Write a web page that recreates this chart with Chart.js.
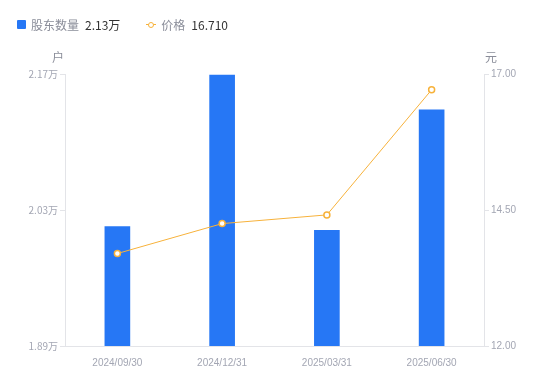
<!DOCTYPE html>
<html>
<head>
<meta charset="utf-8">
<script src="https://cdn.jsdelivr.net/npm/chart.js@4/dist/chart.umd.min.js"></script>
<style>
  html, body { margin: 0; padding: 0; background: #fff; }
  #wrap { position: relative; width: 550px; height: 381px; }
  #legend {
    position: absolute; left: 17px; top: 16px;
    font-family: "Noto Sans CJK SC", "Liberation Sans", sans-serif;
    font-size: 12px; line-height: 17px; color: #8a8d99;
    display: flex; align-items: center; white-space: nowrap;
  }
  #legend .item { display: flex; align-items: center; margin-right: 26px; }
  #legend .sq { width: 9px; height: 9px; background: #2677f5; border-radius: 1px; margin-right: 5px; }
  #legend .ln { position: relative; width: 10px; height: 9px; margin-right: 5px; }
  #legend .ln:before { content: ""; position: absolute; left: 0; right: 0; top: 4px; height: 1px; background: #f7b23b; }
  #legend .ln:after { content: ""; position: absolute; left: 2px; top: 1.5px; width: 4px; height: 4px; border: 1.5px solid #f7b23b; border-radius: 50%; background: #fff; }
  #legend .val { color: #333; margin-left: 6px; }
</style>
</head>
<body>
<div id="wrap">
  <canvas id="chart" width="550" height="381"></canvas>
  <div id="legend">
    <div class="item"><span class="sq"></span>股东数量<span class="val">2.13万</span></div>
    <div class="item"><span class="ln"></span>价格<span class="val">16.710</span></div>
  </div>
</div>
<script>
// 报告期
const periods = ["2024/09/30", "2024/12/31", "2025/03/31", "2025/06/30"];
// 股东数量 (万户)
const holders = [2.013, 2.169, 2.009, 2.133];
// 价格 (元)
const prices = [13.70, 14.25, 14.41, 16.71];
// tick labels
const leftTicks = [1.89, 2.03, 2.17];
const rightTicks = [12.00, 14.50, 17.00];

const tickColor = "#a3a6b3";
const axisColor = "#e3e4e8";
const fontFamily = "'Liberation Sans', Arial, sans-serif";

// unit labels above the two y axes
const unitPlugin = {
  id: "units",
  afterDraw(chart) {
    const { ctx, chartArea } = chart;
    ctx.save();
    ctx.font = "12px 'Noto Sans CJK SC', sans-serif";
    ctx.fillStyle = "#8a8d99";
    ctx.textBaseline = "middle";
    ctx.textAlign = "right";
    ctx.fillText("户", chartArea.left - 1, 57);
    ctx.textAlign = "left";
    ctx.fillText("元", chartArea.right + 1, 57);
    ctx.restore();
  },
};

const config = {
  data: {
    labels: periods,
    datasets: [
      {
        type: "line",
        label: "价格",
        data: prices,
        yAxisID: "y1",
        borderColor: "#f7b23b",
        borderWidth: 1,
        pointRadius: 3,
        pointBorderWidth: 1.5,
        pointBackgroundColor: "#fff",
        pointBorderColor: "#f7b23b",
        tension: 0,
        order: 0,
      },
      {
        type: "bar",
        label: "股东数量",
        data: holders,
        yAxisID: "y",
        backgroundColor: "#2677f5",
        barThickness: 25,
        order: 1,
      },
    ],
  },
  options: {
    responsive: false,
    animation: false,
    layout: { padding: { top: 74, left: 0, right: 0, bottom: 0 } },
    plugins: { legend: { display: false }, tooltip: { enabled: false } },
    scales: {
      x: {
        grid: { display: false },
        border: { color: axisColor },
        ticks: { color: tickColor, font: { size: 10, family: fontFamily }, padding: 3, maxRotation: 0 },
        afterFit(scale) { scale.height = 35; },
      },
      y: {
        position: "left",
        min: 1.89,
        max: 2.17,
        afterBuildTicks(scale) { scale.ticks = leftTicks.map(v => ({ value: v })); },
        grid: { drawOnChartArea: false, tickLength: 5, color: axisColor },
        border: { color: axisColor },
        ticks: {
          color: tickColor,
          font: { size: 10, family: "'Noto Sans CJK SC', " + fontFamily },
          padding: 2,
          callback: v => v.toFixed(2) + "万",
        },
        afterFit(scale) { scale.width = 65; },
      },
      y1: {
        position: "right",
        min: 12,
        max: 17,
        afterBuildTicks(scale) { scale.ticks = rightTicks.map(v => ({ value: v })); },
        grid: { drawOnChartArea: false, tickLength: 5, color: axisColor },
        border: { color: axisColor },
        ticks: {
          color: tickColor,
          font: { size: 10, family: fontFamily },
          padding: 2,
          callback: v => v.toFixed(2),
        },
        afterFit(scale) { scale.width = 66; },
      },
    },
  },
  plugins: [unitPlugin],
};

const chart = new Chart(document.getElementById("chart"), config);
</script>
</body>
</html>
